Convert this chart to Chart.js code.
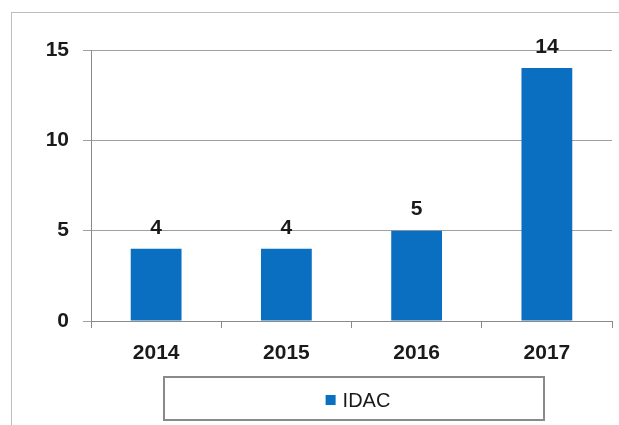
<!DOCTYPE html>
<html>
<head>
<meta charset="utf-8">
<script src="https://cdn.jsdelivr.net/npm/chart.js@4"></script>
<style>
    body { margin:0; background:#fff; }
    #wrap { position:relative; width:619px; height:425px; overflow:hidden; }
    #frame { position:absolute; left:11px; top:12px; width:700px; height:500px; border:1px solid #bdbdbd; }
    #chart { position:absolute; left:0; top:0; }
</style>
</head>
<body>
<div id="wrap">
    <div id="frame"></div>
    <canvas id="chart" width="619" height="425"></canvas>
</div>
<script>
const years = ['2014', '2015', '2016', '2017'];
const idacValues = [4, 4, 5, 14];
const yTicks = [0, 5, 10, 15];
const seriesName = 'IDAC';

const BLUE = '#0a6fc0';
const FONT = "'Liberation Sans', Arial, sans-serif";

// etiquetas encima de cada barra + leyenda con recuadro
const labelsPlugin = {
    id: 'labelsPlugin',
    afterDatasetsDraw(chart) {
        const ctx = chart.ctx;
        const meta = chart.getDatasetMeta(0);
        ctx.save();
        ctx.fillStyle = '#1a1a1a';
        ctx.font = 'bold 21px ' + FONT;
        ctx.textAlign = 'center';
        ctx.textBaseline = 'middle';
        meta.data.forEach((bar, i) => {
            ctx.fillText(chart.data.datasets[0].data[i], bar.x, bar.y - 21);
        });

        // leyenda
        const ds = chart.data.datasets[0];
        ctx.strokeStyle = '#8a8a8a';
        ctx.lineWidth = 2;
        ctx.strokeRect(164, 377, 380, 43);
        ctx.font = '20px ' + FONT;
        const tw = ctx.measureText(ds.label).width;
        const total = 10 + 7 + tw;
        const x0 = 358 - total / 2;
        ctx.fillStyle = ds.backgroundColor;
        ctx.fillRect(x0, 395, 10, 10);
        ctx.fillStyle = '#1a1a1a';
        ctx.textAlign = 'left';
        ctx.fillText(ds.label, x0 + 17, 401);
        ctx.restore();
    }
};

new Chart(document.getElementById('chart'), {
    type: 'bar',
    data: {
        labels: years,
        datasets: [{
            label: seriesName,
            data: idacValues,
            backgroundColor: BLUE,
            barPercentage: 0.39,
            categoryPercentage: 1.0
        }]
    },
    options: {
        responsive: false,
        animation: false,
        layout: { padding: { top: 50, right: 7, left: 0, bottom: 0 } },
        plugins: {
            legend: { display: false },
            tooltip: { enabled: false }
        },
        scales: {
            x: {
                afterFit: (s) => { s.height = 104; },
                grid: { offset: true, drawOnChartArea: false, color: '#8a8a8a', tickLength: 7 },
                border: { color: '#8a8a8a', width: 1 },
                ticks: { color: '#1a1a1a', font: { family: FONT, size: 21, weight: 'bold' }, padding: 13 }
            },
            y: {
                min: 0,
                max: 15,
                afterFit: (s) => { s.width = 91; },
                afterBuildTicks: (s) => { s.ticks = yTicks.map(v => ({ value: v })); },
                grid: { color: '#a0a0a0', tickLength: 8 },
                border: { color: '#8a8a8a', width: 1 },
                ticks: { color: '#1a1a1a', font: { family: FONT, size: 21, weight: 'bold' }, padding: 14 }
            }
        }
    },
    plugins: [labelsPlugin]
});
</script>
</body>
</html>
